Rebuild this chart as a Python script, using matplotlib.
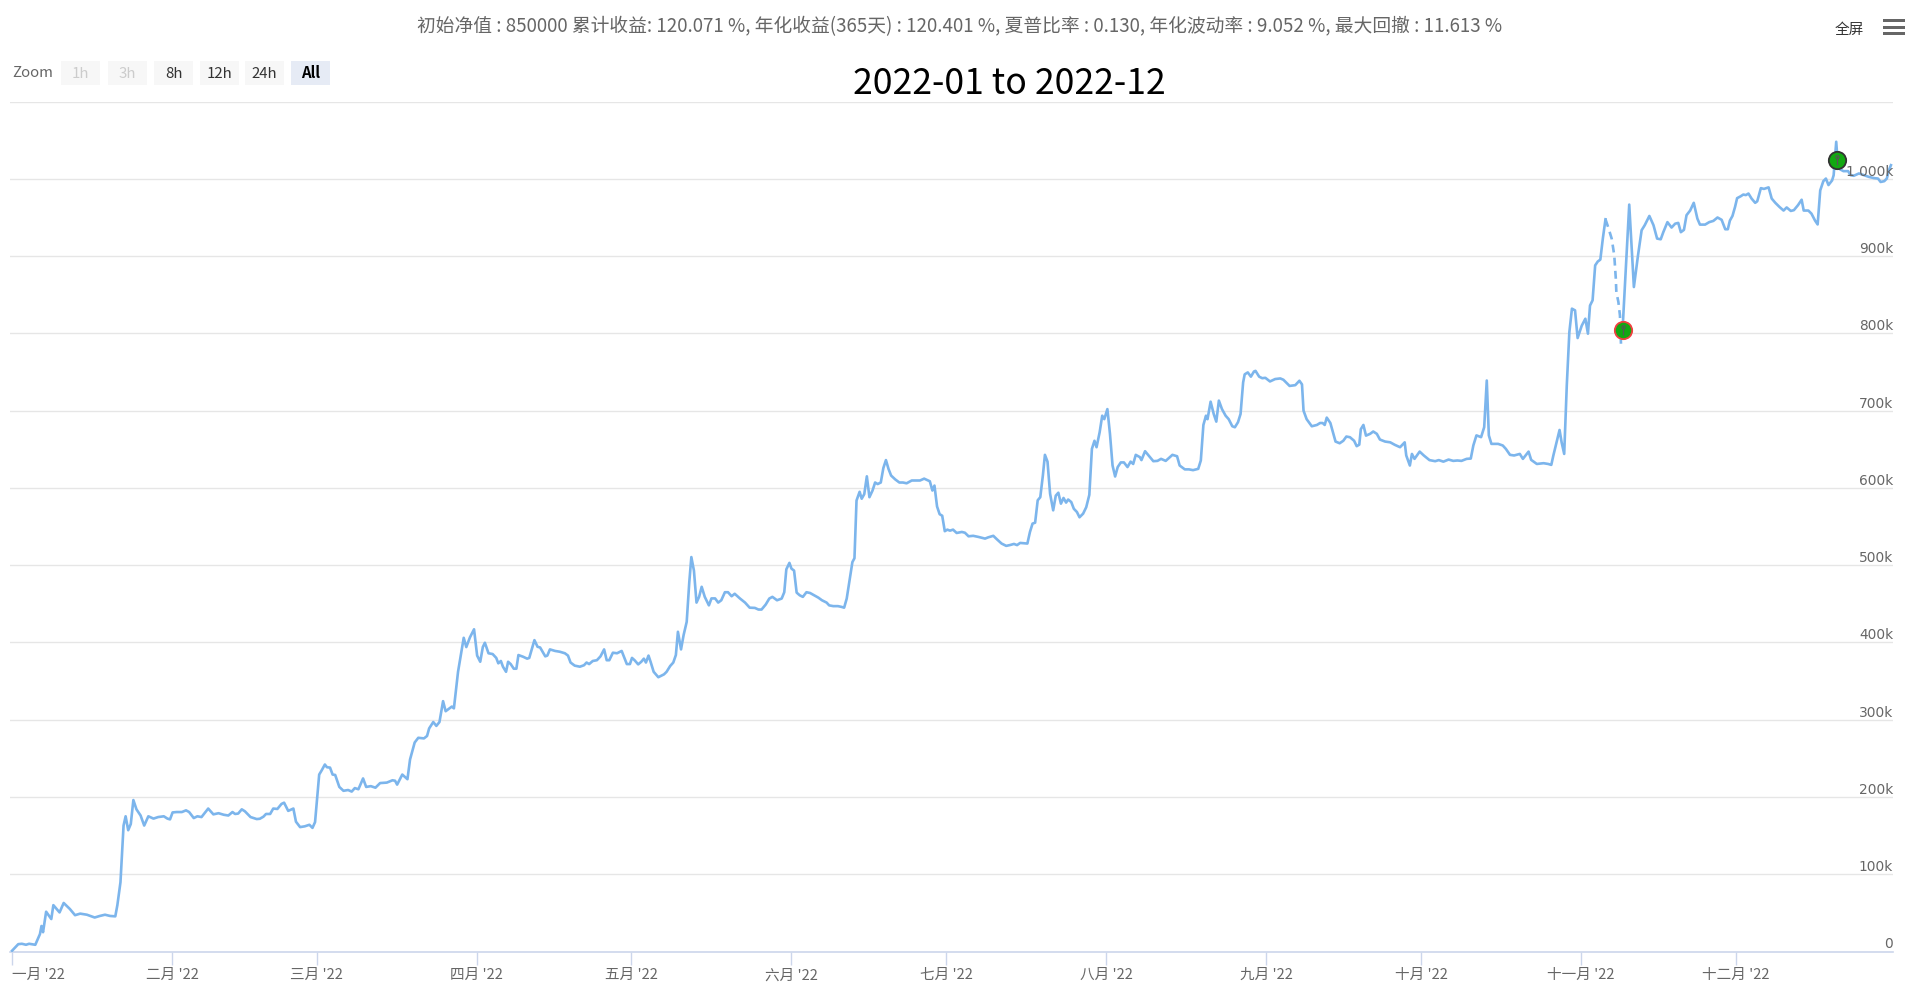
import numpy as np
import matplotlib
matplotlib.use('Agg')
import matplotlib.pyplot as plt
import matplotlib.dates as mdates
import matplotlib.transforms as mtrans
from matplotlib.patches import Rectangle
from matplotlib.path import Path
import datetime as dt

plt.rcParams['font.family'] = ['Noto Sans CJK SC', 'DejaVu Sans']

# ---------------- data ----------------
start_date = dt.datetime(2022, 1, 1)

# solid equity curve: (day offset from 2022-01-01, profit in k)
days = [0, 1.2, 1.9, 2.7, 3.3, 4.5, 5.4, 5.7, 6.0, 6.6, 7.6, 8.0, 9.2, 10.0, 11.2, 12.2, 13.2, 14.5,
        16.0, 17.0, 18.0, 19.0, 20.0, 20.4, 21.0, 21.6, 22.0, 22.5, 23.0, 23.5, 24.1, 24.9, 25.6, 26.4,
        27.4, 28.3, 29.4, 30.1, 30.6, 31.1, 31.9, 32.9, 33.7, 34.3, 35.2, 35.9, 36.7, 38.0, 39.0, 40.0,
        41.0, 41.9, 42.7, 43.2, 43.8, 44.5, 45.1, 46.2, 47.4, 48.0, 48.7, 49.2, 50.0, 50.6, 51.4, 52.2,
        52.7, 53.5, 54.5, 55.0, 55.8, 56.7, 57.6, 58.2, 58.7, 59.5, 60.0, 60.6, 61.0, 61.6, 62.1, 62.6,
        63.4, 64.2, 65.1, 65.8, 66.4, 67.1, 68.0, 68.6, 69.5, 70.4, 71.3, 72.6, 73.7, 74.2, 74.6, 75.6,
        76.6, 77.1, 78.0, 78.7, 79.8, 80.4, 80.8, 81.6, 82.2, 82.8, 83.5, 84.0, 85.2, 85.6, 86.4, 87.5,
        88.0, 88.7, 89.5, 90.1, 90.7, 91.2, 91.6, 92.3, 93.1, 93.8, 94.2, 94.7, 95.1, 95.7, 96.1, 96.6,
        97.2, 97.7, 98.1, 99.0, 99.8, 100.2, 101.2, 101.8, 102.3, 103.3, 103.7, 104.2, 105.2, 106.1,
        107.1, 107.7, 108.2, 109.0, 110.0, 110.8, 111.3, 111.8, 112.5, 113.3, 114.0, 114.7, 115.2,
        115.7, 116.4, 117.2, 118.1, 119.1, 119.7, 120.1, 120.6, 121.3, 121.9, 122.4, 122.8, 123.3,
        123.7, 124.3, 125.2, 126.3, 126.8, 127.5, 128.1, 128.6, 129.0, 129.6, 130.1, 130.7, 131.2,
        131.6, 132.1, 132.6, 133.1, 133.6, 134.2, 135.0, 135.5, 136.2, 136.8, 137.4, 138.1, 138.7,
        139.4, 140.0, 141.0, 142.0, 142.9, 143.9, 144.6, 145.2, 146.0, 146.7, 147.3, 148.2, 149.1,
        149.6, 150.0, 150.6, 151.0, 151.5, 152.0, 152.6, 153.2, 153.9, 154.6, 155.4, 156.2, 156.9,
        157.8, 158.3, 159.1, 160.0, 160.7, 161.2, 161.7, 162.4, 162.8, 163.2, 163.6, 164.2, 164.6,
        165.1, 165.6, 166.1, 166.7, 167.2, 167.7, 168.3, 168.8, 169.3, 169.8, 170.3, 171.1, 171.9,
        172.6, 173.3, 174.3, 175.3, 175.9, 176.7, 177.8, 178.3, 178.7, 179.2, 179.7, 180.2, 180.7,
        181.2, 181.7, 182.3, 183.0, 184.0, 184.6, 185.3, 186.2, 187.2, 188.5, 189.1, 190.1, 190.8,
        191.7, 192.6, 193.3, 194.1, 194.7, 195.3, 196.7, 197.2, 197.7, 198.2, 198.7, 199.2, 199.7,
        200.1, 200.6, 201.1, 201.7, 202.2, 202.7, 203.2, 203.7, 204.2, 204.6, 205.2, 205.7, 206.3,
        206.8, 207.5, 208.1, 208.7, 209.2, 209.7, 210.1, 210.7, 211.2, 211.6, 212.2, 212.7, 213.2,
        213.7, 214.2, 214.8, 215.4, 216.1, 216.7, 217.2, 217.7, 218.5, 218.8, 219.5, 220.3, 221.1,
        221.9, 222.6, 223.5, 224.8, 225.7, 226.2, 227.2, 228.0, 228.8, 229.8, 230.3, 230.8, 231.3,
        231.6, 232.2, 232.8, 233.3, 233.8, 234.4, 235.1, 235.7, 236.4, 236.9, 237.5, 238.0, 238.5,
        238.8, 239.4, 240.0, 240.6, 240.9, 241.6, 242.2, 242.8, 243.7, 244.7, 245.7, 246.3, 247.5,
        248.6, 249.4, 249.9, 250.2, 250.8, 251.8, 252.8, 253.4, 253.9, 254.3, 254.7, 255.4, 255.9,
        256.4, 257.2, 257.9, 258.5, 259.2, 260.0, 260.5, 261.0, 261.3, 261.8, 262.3, 263.1, 263.7,
        264.4, 265.0, 266.0, 267.0, 267.9, 268.9, 269.8, 270.1, 270.8, 271.2, 271.7, 272.7, 273.5,
        274.6, 275.7, 276.4, 277.3, 278.3, 279.2, 280.0, 280.8, 281.8, 282.6, 283.1, 283.7, 284.6,
        285.2, 285.7, 286.1, 286.6, 287.9, 288.8, 289.4, 290.2, 291.0, 292.1, 292.7, 293.8, 294.3,
        295.4, 296.7, 297.6, 298.2, 298.6, 299.8, 300.2, 300.7, 301.2, 301.7, 302.2, 302.8, 303.3,
        304.1, 304.8, 305.3, 305.7, 306.2, 306.7, 307.2, 307.7, 308.2, 308.7,
        312.0, 313.3, 314.2, 315.0, 315.7, 316.3, 317.2, 318.0, 318.7, 319.4, 319.9, 320.7, 321.5,
        322.2, 322.8, 323.3, 323.9, 324.4, 325.1, 325.8, 326.5, 327.0, 328.0, 328.8, 329.6, 330.4,
        331.2, 331.9, 332.4, 332.8, 333.3, 333.8, 334.2, 334.9, 335.4, 335.9, 336.4, 337.0, 337.7,
        338.1, 338.8, 339.4, 340.3, 340.9, 341.6, 342.4, 343.2, 343.8, 344.6, 345.2, 346.0, 346.7,
        347.1, 348.0, 348.6, 349.3, 349.8, 350.3, 350.9, 351.4, 351.9, 352.6, 352.9, 353.4, 353.7,
        354.1, 354.8, 355.7, 356.2, 356.8, 357.8, 358.8, 359.7, 360.7, 361.5, 362.0, 362.7, 363.2,
        363.6, 364.0]

values_k = [1, 9.5, 10, 8.7, 10, 8.7, 22.5, 33, 25, 51.5, 42, 60, 50.6, 62.8, 55, 47, 49, 47.6,
            44, 46, 47.6, 46, 45.5, 60, 89.6, 163, 175, 157, 165, 196, 184, 176, 163, 175,
            172, 174, 175, 172, 171, 180, 180.5, 180.5, 182.7, 180.5, 172.7, 175, 174, 185, 177.5, 179,
            177, 176, 180.5, 178, 178.5, 184, 181.5, 174, 171.4, 171.8, 174.5, 178, 178, 185, 184.5, 191,
            192.6, 182, 185, 168, 161, 162, 164, 160, 167.5, 229, 234.6, 242, 238.5, 238, 229, 228.5,
            213, 208, 209, 207, 211.5, 210, 224, 213, 214, 212, 218, 218.6, 221.6, 221, 216, 229,
            223, 248.5, 270.5, 276.6, 275.8, 279, 288.7, 297, 292, 297, 324, 311, 317, 314.7, 362, 406,
            394, 406.5, 417, 383, 375, 394, 399.6, 386, 385, 380, 373, 376, 368.6, 362, 375, 372,
            366, 366, 383.7, 381.5, 379, 380, 403, 394.4, 393.5, 382, 383, 391, 389, 388,
            386, 383, 374, 370, 368.6, 370.5, 374, 372, 376, 377, 382, 391, 377,
            377, 386.7, 386, 389, 372, 372, 380, 377, 371.6, 375, 379, 374, 383,
            375, 362, 355, 358.7, 362, 369.5, 374, 383.7, 413.8, 391, 409.5, 426.7, 478,
            510.5, 493, 451.6, 459, 472, 459, 448, 457, 457, 451.6, 454.6, 465, 465,
            459.8, 463, 457, 451.6, 445, 444.7, 442.6, 442.6, 449, 456.8, 459, 454.6, 456.8,
            465, 494.6, 503, 495.5, 493, 464.5, 461, 459, 465, 464, 461, 458, 454.6,
            451.6, 448, 447, 447, 446, 445, 456.8, 487, 504, 509, 583.7, 595, 586,
            592, 615, 588, 596.6, 607, 605, 607, 625.8, 636, 624.5, 616, 611, 607,
            607, 606, 609.6, 609.6, 609.6, 612, 608.6, 596.6, 603, 576, 566, 564, 544,
            546, 544.7, 546, 541.7, 543, 542, 537.4, 538, 536.6, 534.4, 536, 538, 533.5,
            528, 525, 526, 527.5, 526, 528.8, 528, 543, 553.8, 555, 584, 588, 616,
            642.8, 634, 592.5, 571, 590, 593.8, 579.6, 587, 581, 585, 581.7, 573, 568.8,
            562, 566.7, 575, 591, 650.5, 661, 652.7, 672, 693.5, 689, 702, 670, 629,
            614.8, 627, 633, 633, 627, 634, 631, 642.8, 639.8, 636, 647.5, 641, 634.6,
            635, 637.6, 635, 642.8, 641, 629, 624, 624, 623, 624.7, 635.5, 681.5, 693.5,
            689, 711.6, 695.7, 685.8, 713, 702, 693.5, 689, 679.8, 678.5, 685, 695.7, 736.6,
            747, 749.5, 744, 750.7, 751.5, 744, 742, 742.5, 737.8, 740.9, 741.7, 740, 732,
            733, 738.7, 734, 700, 689, 679.8, 681.5, 684, 684, 681.5, 691, 684, 672,
            660, 657.8, 661, 666.5, 665.6, 661, 654, 656, 676, 681.5, 667.7, 670, 673,
            670, 662.6, 660, 659, 655.7, 652.7, 659, 642, 629, 644, 637.6, 647, 642,
            636, 634.6, 636, 634, 636.7, 635, 635.5, 635, 637.6, 638, 655, 668, 665.7,
            678.6, 739, 668, 657, 657, 654.9, 650.5, 642.8, 642, 644, 637.6, 647, 636.3,
            631, 632, 631, 629.8, 642, 675, 659, 644, 732.6, 801.7, 832, 829.8, 794,
            810, 819, 799.6, 836, 842.8, 888, 893, 895.5, 923.5, 947.7,
            804, 966.7, 860, 901, 933.5, 940, 952, 940, 922.7, 921.8, 931, 944, 937,
            942, 943, 931, 934, 953, 959, 969, 948.6, 940.8, 940.8, 944, 945.6, 950,
            947, 934.8, 934.8, 946, 952, 963.7, 975, 977.5, 979.7, 979, 981, 974.5, 969,
            971, 988, 987, 989, 974.5, 969, 963.7, 959, 963, 958.5, 959.5, 966, 973,
            959, 959, 955, 946, 941, 985, 997, 1000.4, 992, 998, 1004.7, 1048, 1020,
            1012.5, 1010, 1010, 1004.7, 1004, 1007, 1004.7, 1002.6, 1001, 1000.4, 996, 997, 1000.4,
            1011, 1017.7]

# dashed drawdown path (peak -> trough)
dd_days = [308.7, 309.2, 309.9, 310.4, 310.7, 310.8, 311.2, 311.5, 311.7]
dd_values_k = [947.7, 937.8, 922.7, 901, 870.8, 853.6, 840.6, 823.3, 786.6]

# flag markers
flag_days = [312.0, 353.6]
flag_values_k = [804, 1024]
flag_edges = ['#f04040', '#333333']

month_labels = ["一月 '22", "二月 '22", "三月 '22", "四月 '22", "五月 '22", "六月 '22",
                "七月 '22", "八月 '22", "九月 '22", "十月 '22", "十一月 '22", "十二月 '22"]
y_ticks_k = [0, 100, 200, 300, 400, 500, 600, 700, 800, 900, 1000]
y_tick_labels = ['0', '100k', '200k', '300k', '400k', '500k', '600k', '700k', '800k', '900k', '1 000k']

header = ("初始净值 : 850000 累计收益: 120.071 %, 年化收益(365天) : 120.401 %, 夏普比率 : 0.130, "
          "年化波动率 : 9.052 %, 最大回撤 : 11.613 %")
title = "2022-01 to 2022-12"
zoom_buttons = ['1h', '3h', '8h', '12h', '24h', 'All']

# ---------------- figure ----------------
W, H = 1920, 992
fig = plt.figure(figsize=(W / 100, H / 100), dpi=100)


def fx(px):
    return px / W


def fy(py):
    return 1 - py / H


ax = fig.add_axes([fx(10), fy(951.5), fx(1893) - fx(10), fy(101.6) - fy(951.5)])
base = mdates.date2num(start_date)

x = base + np.array(days)
y = np.array(values_k) * 1000.0
gap = np.where(np.diff(days) > 3)[0]
segs = np.split(np.arange(len(days)), gap + 1)
LINE = '#7cb5ec'
for s in segs:
    ax.plot(x[s], y[s], color=LINE, lw=1.9, solid_joinstyle='round', zorder=3)
ax.plot(base + np.array(dd_days), np.array(dd_values_k) * 1000.0, color=LINE, lw=1.9,
        ls=(0, (3, 2)), zorder=3)

# flags
pin = Path([(0, -0.9), (0, 0.35)] + [(0.28 * np.cos(t), 0.6 + 0.28 * np.sin(t))
                                     for t in np.linspace(0, 2 * np.pi, 13)],
           [Path.MOVETO, Path.LINETO] + [Path.MOVETO] + [Path.LINETO] * 12)
for d, v, ec in zip(flag_days, flag_values_k, flag_edges):
    ax.plot(base + d, v * 1000.0, marker='o', ms=12.5, mfc='#12a812', mec=ec, mew=1.3, zorder=5)
    ax.plot(base + d, v * 1000.0, marker=pin, ms=7, mfc='none', mec='#555555', mew=0.9, zorder=6)

ax.set_xlim(base - 0.4, base + 364.4)
ax.set_ylim(0, 1100000)

# grid
for v in range(100, 1101, 100):
    ax.axhline(v * 1000, color='#e6e6e6', lw=1, zorder=1)

for sp in ['top', 'left', 'right']:
    ax.spines[sp].set_visible(False)
ax.spines['bottom'].set_color('#ccd6eb')
ax.spines['bottom'].set_linewidth(1.2)

month_ticks = [mdates.date2num(dt.datetime(2022, m, 1)) for m in range(1, 13)]
ax.set_xticks(month_ticks)
ax.set_xticklabels(month_labels)
ax.tick_params(axis='x', length=9, width=1, color='#ccd6eb', pad=3, labelsize=10.5,
               labelcolor='#666666')
ax.get_xticklabels()[0].set_horizontalalignment('left')
ax.set_yticks([])

ytrans = mtrans.offset_copy(ax.get_yaxis_transform(), fig=fig, x=0, y=3, units='dots')
for v, lab in zip(y_ticks_k, y_tick_labels):
    ax.text(1.0, v * 1000, lab, transform=ytrans, ha='right', va='baseline',
            fontsize=9.9, color='#666666', family='DejaVu Sans', zorder=4)

# header & title
fig.text(0.5, fy(27), header, ha='center', va='center', fontsize=13.5, color='#666666')
fig.text(fx(1009), fy(84.5), title, ha='center', va='center', fontsize=25.6, color='#000000')

# zoom buttons
fig.text(fx(12), fy(73), 'Zoom', ha='left', va='center', fontsize=10.8, color='#666666')
btn_x = [61, 108, 154, 200, 245, 291]
for i, (bx, lab) in enumerate(zip(btn_x, zoom_buttons)):
    sel = lab == 'All'
    fc = '#e6ebf5' if sel else '#f7f7f7'
    if lab in ('1h', '3h'):
        tc = '#cccccc'
    elif sel:
        tc = '#000000'
    else:
        tc = '#333333'
    fig.add_artist(Rectangle((fx(bx), fy(85)), fx(39), fy(60.5) - fy(85), facecolor=fc,
                             edgecolor='none', transform=fig.transFigure))
    fig.text(fx(bx + 19.5), fy(73.5), lab, ha='center', va='center', fontsize=10.8, color=tc,
             fontweight='bold' if sel else 'normal')

# top-right controls
fig.text(fx(1849), fy(29.5), '全屏', ha='center', va='center', fontsize=10.5, color='#333333')
for yy in [20.5, 27, 33.5]:
    fig.add_artist(Rectangle((fx(1883), fy(yy + 1.5)), fx(22), fy(yy - 1.5) - fy(yy + 1.5),
                             facecolor='#666666', edgecolor='none', transform=fig.transFigure))

fig.savefig('out.png', dpi=100, facecolor='white')
